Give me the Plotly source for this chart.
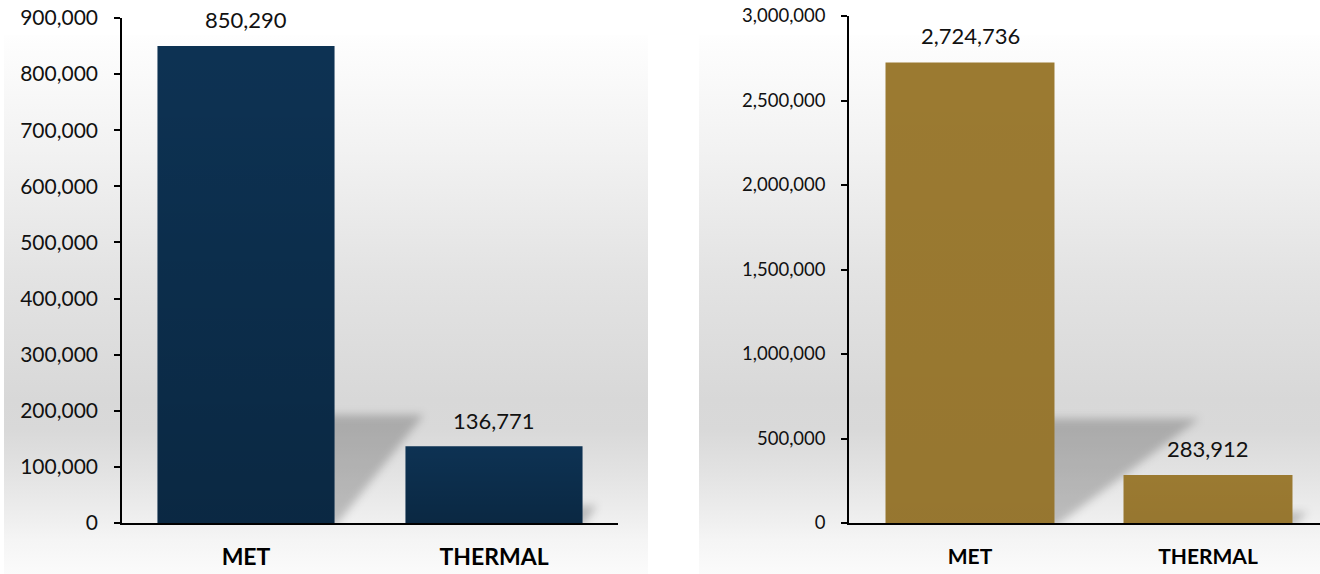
import base64
import plotly.graph_objects as go

# ---------------- data ----------------
categories = ["MET", "THERMAL"]
left_values = [850290, 136771]
right_values = [2724736, 283912]
left_ticks = [0, 100000, 200000, 300000, 400000, 500000, 600000, 700000, 800000, 900000]
right_ticks = [0, 500000, 1000000, 1500000, 2000000, 2500000, 3000000]

# ---------------- layout constants ----------------
W, H = 1320, 574
NAVY = "#0d3253"
GOLD = "#9b7a31"
FONT = "Lato"
BAR_W_L = 0.714
BAR_W_R = 0.71

xdom_l = [122 / W, 618 / W]
xdom_r = [849 / W, 1.0]
xr_l = [-0.5, 1.5]
xr_r = [-(970 - 849) / 238, 1 + (1320 - 1208) / 238]
ydom_l = [(H - 523) / H, (H - 18) / H]
ydom_r = [(H - 523) / H, (H - 16) / H]
yr_l = [0, 900000]
yr_r = [0, 3000000]


def px_scales(xdom, xr, ydom, yr):
    pxx = (xdom[1] - xdom[0]) * W / (xr[1] - xr[0])
    pxy = (ydom[1] - ydom[0]) * H / (yr[1] - yr[0])
    return pxx, pxy


def svg_uri(svg):
    return "data:image/svg+xml;base64," + base64.b64encode(svg.encode()).decode()


def bg_image(x0, x1):
    stops = [(0.0, "#fefefe"), (0.213, "#f2f2f2"), (0.445, "#e3e3e3"), (0.677, "#d8d8d8"),
             (0.733, "#d9d9d9"), (0.807, "#e2e2e2"), (0.9, "#efefef"), (0.937, "#f5f5f5"),
             (1.0, "#fbfbfb")]
    st = "".join(f'<stop offset="{o}" stop-color="{c}"/>' for o, c in stops)
    svg = (f'<svg xmlns="http://www.w3.org/2000/svg" width="100" height="100" viewBox="0 0 100 100" '
           f'preserveAspectRatio="none"><defs><linearGradient id="g" x1="0" y1="0" x2="0" y2="1">{st}'
           f'</linearGradient></defs><rect x="0" y="0" width="100" height="100" fill="url(#g)"/></svg>')
    top = 35
    return dict(source=svg_uri(svg), xref="paper", yref="paper", x=x0 / W, y=(H - top) / H,
                sizex=(x1 - x0) / W, sizey=(H - top) / H, sizing="stretch", xanchor="left",
                yanchor="top", layer="below")


def bar_shade(values, bar_w, xref, yref, strength):
    svg = ('<svg xmlns="http://www.w3.org/2000/svg" width="100" height="100" viewBox="0 0 100 100" '
           'preserveAspectRatio="none"><defs><linearGradient id="s" x1="0" y1="0" x2="0" y2="1">'
           f'<stop offset="0" stop-color="#000" stop-opacity="0"/>'
           f'<stop offset="1" stop-color="#000" stop-opacity="{strength}"/>'
           '</linearGradient></defs><rect x="0" y="0" width="100" height="100" fill="url(#s)"/></svg>')
    return [dict(source=svg_uri(svg), xref=xref, yref=yref, x=i - bar_w / 2, y=v,
                 sizex=bar_w, sizey=v, sizing="stretch", xanchor="left", yanchor="top",
                 layer="above") for i, v in enumerate(values)]


SHADOW_FRAC = 0.227


def shadow_images(values, bar_w, spread, xref, yref, pxx, pxy):
    imgs = []
    vmax = max(values)
    for i, v in enumerate(values):
        right_edge = i + bar_w / 2
        hpx = SHADOW_FRAC * v * pxy
        wpx = spread * (v / vmax) * pxx
        mx, my = 14.0, 14.0
        back = 10.0
        tw = back + wpx + mx
        th = my + hpx
        svg = (f'<svg xmlns="http://www.w3.org/2000/svg" width="{tw:.1f}" height="{th:.1f}" '
               f'viewBox="0 0 {tw:.1f} {th:.1f}" preserveAspectRatio="none"><defs>'
               f'<filter id="b" x="-50%" y="-50%" width="200%" height="200%">'
               f'<feGaussianBlur stdDeviation="4"/></filter></defs>'
               f'<polygon points="0,{my:.1f} {back + wpx:.1f},{my:.1f} {back:.1f},{th + 4:.1f} 0,{th + 4:.1f}" '
               f'fill="#000" fill-opacity="0.21" filter="url(#b)"/></svg>')
        imgs.append(dict(source=svg_uri(svg), xref=xref, yref=yref,
                         x=right_edge - back / pxx, y=th / pxy,
                         sizex=tw / pxx, sizey=th / pxy, sizing="stretch",
                         xanchor="left", yanchor="top", layer="below"))
    return imgs


pxx_l, pxy_l = px_scales(xdom_l, xr_l, ydom_l, yr_l)
pxx_r, pxy_r = px_scales(xdom_r, xr_r, ydom_r, yr_r)

fig = go.Figure()
fig.add_trace(go.Bar(x=categories, y=left_values, width=BAR_W_L, marker=dict(color=NAVY, line=dict(width=0)),
                     xaxis="x", yaxis="y", hoverinfo="skip"))
fig.add_trace(go.Bar(x=categories, y=right_values, width=BAR_W_R, marker=dict(color=GOLD, line=dict(width=0)),
                     xaxis="x2", yaxis="y2", hoverinfo="skip"))

annotations = []
for c, v in zip(categories, left_values):
    annotations.append(dict(x=c, y=v, xref="x", yref="y", text=f"{v:,}", showarrow=False,
                            yanchor="middle", yshift=26, font=dict(family=FONT, size=22, color="#111")))
for c, v in zip(categories, right_values):
    annotations.append(dict(x=c, y=v, xref="x2", yref="y2", text=f"{v:,}", showarrow=False,
                            yanchor="middle", yshift=27, font=dict(family=FONT, size=22, color="#111")))

images = [bg_image(4, 648), bg_image(699, 1320)]
images += shadow_images(left_values, BAR_W_L, 0.36, "x", "y", pxx_l, pxy_l)
images += shadow_images(right_values, BAR_W_R, 0.61, "x2", "y2", pxx_r, pxy_r)
images += bar_shade(left_values, BAR_W_L, "x", "y", 0.2)
images += bar_shade(right_values, BAR_W_R, "x2", "y2", 0.03)

axis_common = dict(showgrid=False, zeroline=False, showline=True, linecolor="#000",
                   fixedrange=True, automargin=False)

fig.update_layout(
    width=W, height=H,
    autosize=False,
    margin=dict(l=0, r=0, t=0, b=0, pad=0),
    paper_bgcolor="#ffffff",
    plot_bgcolor="rgba(0,0,0,0)",
    showlegend=False,
    font=dict(family=FONT, color="#111"),
    xaxis=dict(domain=xdom_l, range=xr_l, type="category", anchor="y", linewidth=2,
               ticks="", tickfont=dict(family=FONT, size=23, color="#000", weight="bold"),
               ticklabelstandoff=12, **axis_common),
    yaxis=dict(domain=ydom_l, range=yr_l, anchor="x", linewidth=1.5, tickvals=left_ticks,
               tickformat=",d", ticks="outside", ticklen=6, tickwidth=1.5, tickcolor="#000",
               tickfont=dict(family=FONT, size=21, color="#111"), ticklabelstandoff=12, **axis_common),
    xaxis2=dict(domain=xdom_r, range=xr_r, type="category", anchor="y2", linewidth=2,
                ticks="", tickfont=dict(family=FONT, size=21, color="#000", weight="bold"),
                ticklabelstandoff=14, **axis_common),
    yaxis2=dict(domain=ydom_r, range=yr_r, anchor="x2", linewidth=1.5, tickvals=right_ticks,
                tickformat=",d", ticks="outside", ticklen=6, tickwidth=1.5, tickcolor="#000",
                tickfont=dict(family=FONT, size=18.5, color="#111"), ticklabelstandoff=12, **axis_common),
    annotations=annotations,
    images=images,
)

fig.write_html("out.html", config={"displayModeBar": False},
               post_script="document.body.style.margin='0';document.body.style.overflow='hidden';")
